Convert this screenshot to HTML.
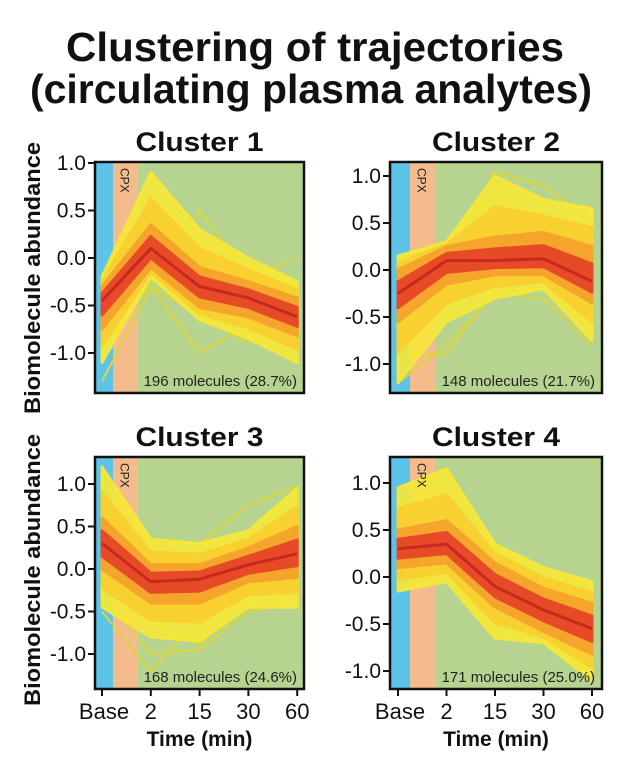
<!DOCTYPE html>
<html><head><meta charset="utf-8">
<style>
html,body{margin:0;padding:0;background:#fff;}
svg{display:block;font-family:"Liberation Sans",Arial,sans-serif;}
</style></head>
<body>
<svg id="chart" width="630" height="767" viewBox="0 0 630 767" xmlns="http://www.w3.org/2000/svg">
<text x="315" y="61" text-anchor="middle" font-size="41" font-weight="bold" textLength="498" lengthAdjust="spacingAndGlyphs" fill="#111">Clustering of trajectories</text>
<text x="311" y="103" text-anchor="middle" font-size="41" font-weight="bold" textLength="562" lengthAdjust="spacingAndGlyphs" fill="#111">(circulating plasma analytes)</text>
<text transform="translate(40,278) rotate(-90)" text-anchor="middle" font-size="22" font-weight="bold" textLength="272" lengthAdjust="spacingAndGlyphs" fill="#111">Biomolecule abundance</text>
<text transform="translate(40,570) rotate(-90)" text-anchor="middle" font-size="22" font-weight="bold" textLength="272" lengthAdjust="spacingAndGlyphs" fill="#111">Biomolecule abundance</text>
<g id="panels"></g>
</svg>
<script>
const timeLabels = ["Base","2","15","30","60"];
const yTickValues = [1.0,0.5,0.0,-0.5,-1.0];
const yTickLabels = ["1.0","0.5","0.0","-0.5","-1.0"];
const clusterNames = ["Cluster 1","Cluster 2","Cluster 3","Cluster 4"];
const moleculeLabels = ["196 molecules (28.7%)","148 molecules (21.7%)","168 molecules (24.6%)","171 molecules (25.0%)"];

const c1Mean = [-0.45,0.1,-0.3,-0.42,-0.62];
const c1OuterHi = [-0.2,0.9,0.3,0.0,-0.25];
const c1OuterLo = [-1.1,-0.2,-0.65,-0.85,-1.1];
const c1MidHi = [-0.3,0.35,-0.1,-0.25,-0.42];
const c1MidLo = [-0.75,-0.1,-0.52,-0.62,-0.82];
const c1Lines = [[-1.3,-0.3,-0.6,-0.9,-0.3],[-0.3,-0.3,0.5,-0.2,0.0],[-0.75,-0.3,-1.0,-0.7,-0.4],[-0.2,0.6,0.2,-0.1,-0.3],[-1.0,-0.15,-0.6,-0.8,-1.05],[-0.5,0.2,-0.2,-0.35,-0.55],[-0.6,0.0,-0.35,-0.5,-0.7]];

const c2Mean = [-0.25,0.1,0.1,0.12,-0.12];
const c2OuterHi = [0.15,0.3,1.0,0.75,0.65];
const c2OuterLo = [-1.2,-0.55,-0.3,-0.2,-0.75];
const c2MidHi = [0.0,0.25,0.35,0.4,0.25];
const c2MidLo = [-0.55,-0.15,-0.05,-0.05,-0.35];
const c2Lines = [[0.12,0.12,1.05,0.9,0.5],[-0.1,0.25,0.8,0.5,0.7],[-1.2,-0.8,-0.25,-0.3,-0.8],[-0.9,-0.9,-0.2,-0.2,-0.6],[-0.3,0.15,0.15,0.15,-0.1],[-0.4,0.05,0.05,0.1,-0.2]];

const c3Mean = [0.3,-0.15,-0.12,0.05,0.18];
const c3OuterHi = [1.2,0.35,0.3,0.45,0.95];
const c3OuterLo = [-0.45,-0.8,-0.85,-0.45,-0.45];
const c3MidHi = [0.6,0.05,0.05,0.25,0.5];
const c3MidLo = [0.0,-0.4,-0.4,-0.15,-0.1];
const c3Lines = [[1.05,0.3,0.3,0.75,0.98],[-0.5,-1.2,-0.6,-0.4,-0.3],[-0.3,-1.0,-0.95,-0.5,-0.4],[0.8,-0.6,-0.9,-0.3,0.7],[0.35,-0.15,-0.1,0.08,0.22],[0.2,-0.2,-0.2,0.0,0.1]];

const c4Mean = [0.3,0.35,-0.1,-0.35,-0.55];
const c4OuterHi = [0.95,1.15,0.35,0.1,-0.05];
const c4OuterLo = [-0.15,-0.05,-0.65,-0.7,-1.1];
const c4MidHi = [0.5,0.6,0.15,-0.12,-0.28];
const c4MidLo = [0.1,0.15,-0.32,-0.58,-0.82];
const c4Lines = [[0.6,1.15,0.3,-0.05,-0.05],[-0.15,0.1,-0.65,-0.6,-1.05],[0.8,0.4,0.0,-0.2,-0.3],[0.3,0.35,-0.1,-0.35,-0.55],[0.2,0.3,-0.2,-0.45,-0.7]];

const means=[c1Mean,c2Mean,c3Mean,c4Mean];
const outerHi=[c1OuterHi,c2OuterHi,c3OuterHi,c4OuterHi];
const outerLo=[c1OuterLo,c2OuterLo,c3OuterLo,c4OuterLo];
const midHi=[c1MidHi,c2MidHi,c3MidHi,c4MidHi];
const midLo=[c1MidLo,c2MidLo,c3MidLo,c4MidLo];
const extraLines=[c1Lines,c2Lines,c3Lines,c4Lines];

// layout (not data)
const layout=[
 {x0:95,x1:304,y0:162,y1:393,zero:258,unit:95,xs:102,dx:48.8,blue:113,orange:138},
 {x0:390,x1:602,y0:162,y1:393,zero:270,unit:94,xs:398,dx:48.5,blue:410,orange:435},
 {x0:95,x1:304,y0:457,y1:689,zero:569,unit:85,xs:102,dx:48.8,blue:113,orange:138},
 {x0:390,x1:602,y0:457,y1:689,zero:577,unit:94,xs:398,dx:48.5,blue:410,orange:435}
];
const NS="http://www.w3.org/2000/svg";
const root=document.getElementById('panels');
function mk(tag,attrs,parent){const e=document.createElementNS(NS,tag);for(const k in attrs)e.setAttribute(k,attrs[k]);parent.appendChild(e);return e;}
function mix(a,b,t){return a.map((v,i)=>v+(b[i]-v)*t);}

layout.forEach((L,p)=>{
  const g=mk('g',{},root);
  
  
  const xS=i=>L.xs+i*L.dx;
  const yS=v=>L.zero-v*L.unit;
  const cp=mk('clipPath',{id:'clip'+p},g);
  mk('rect',{x:L.x0,y:L.y0,width:L.x1-L.x0,height:L.y1-L.y0},cp);
  const bg=mk('rect',{x:L.x0,y:L.y0,width:L.x1-L.x0,height:L.y1-L.y0,fill:'#b6d48f'},g);
  
  
  const b=mk('rect',{x:L.x0,y:L.y0,width:L.blue-L.x0,height:L.y1-L.y0,fill:'#5ec3e8'},g);
  
  
  const o=mk('rect',{x:L.blue,y:L.y0,width:L.orange-L.blue,height:L.y1-L.y0,fill:'#f4bb8c'},g);
  
  
  const lg=mk('g',{'clip-path':`url(#clip${p})`},g);
  
  
  function band(hi,lo,fill,op){
    const pts=hi.map((v,i)=>xS(i)+','+yS(v)).concat(lo.map((v,i)=>xS(i)+','+yS(v)).reverse());
    const e=mk('polygon',{points:pts.join(' '),fill:fill,'fill-opacity':op,'stroke':fill,'stroke-opacity':op,'stroke-width':3,'stroke-linejoin':'round'},lg);
    
    
  }
  function line(vals,color,w){
    const e=mk('polyline',{points:vals.map((v,i)=>xS(i)+','+yS(v)).join(' '),fill:'none',stroke:color,'stroke-width':w,'stroke-linejoin':'round'},lg);
    
    
  }
  extraLines[p].forEach(l=>line(l,'#d9d63a',2));
  band(outerHi[p],outerLo[p],'#f6e838',0.9);
  band(mix(outerHi[p],midHi[p],0.5),mix(outerLo[p],midLo[p],0.5),'#f8d030',1);
  band(midHi[p],midLo[p],'#f5a42c',1);
  band(mix(means[p],midHi[p],0.5),mix(means[p],midLo[p],0.5),'#e64a26',1);
  line(means[p],'#c8281e',3);
  const cpx=mk('text',{transform:`translate(${(L.blue+L.orange)/2-5},${L.y0+6}) rotate(90)`,'font-size':'12',fill:'#222'},g);
  cpx.textContent='CPX';
  
  
  const fr=mk('rect',{x:L.x0,y:L.y0,width:L.x1-L.x0,height:L.y1-L.y0,fill:'none',stroke:'#111','stroke-width':2.5},g);
  
  
  yTickValues.forEach((v,i)=>{
    const y=yS(v);
    mk('line',{x1:L.x0-7,x2:L.x0,y1:y,y2:y,stroke:'#111','stroke-width':2},g);
    const t=mk('text',{x:L.x0-9,y:y+7,'text-anchor':'end','font-size':'21',fill:'#111'},g);
    t.textContent=yTickLabels[i];
    
    
  });
  const title=mk('text',{x:(L.x0+L.x1)/2,y:L.y0-11,'text-anchor':'middle','font-size':'27','font-weight':'bold',textLength:'128',lengthAdjust:'spacingAndGlyphs',fill:'#111'},g);
  title.textContent=clusterNames[p];
  
  
  const ml=mk('text',{x:L.x1-7,y:L.y1-7,'text-anchor':'end','font-size':'15',fill:'#222'},g);
  ml.textContent=moleculeLabels[p];
  
  
  if(p>=2){
    timeLabels.forEach((lab,i)=>{
      mk('line',{x1:xS(i),x2:xS(i),y1:L.y1,y2:L.y1+7,stroke:'#111','stroke-width':2},g);
      const t=mk('text',{x:xS(i)+(i===0?2:0),y:L.y1+30,'text-anchor':'middle','font-size':'22',fill:'#111'},g);
      t.textContent=lab;
      
      
    });
    const xt=mk('text',{x:(L.x0+L.x1)/2,y:L.y1+57,'text-anchor':'middle','font-size':'21','font-weight':'bold',fill:'#111'},g);
    xt.textContent='Time (min)';
    
    
  }
});
</script>
</body></html>
